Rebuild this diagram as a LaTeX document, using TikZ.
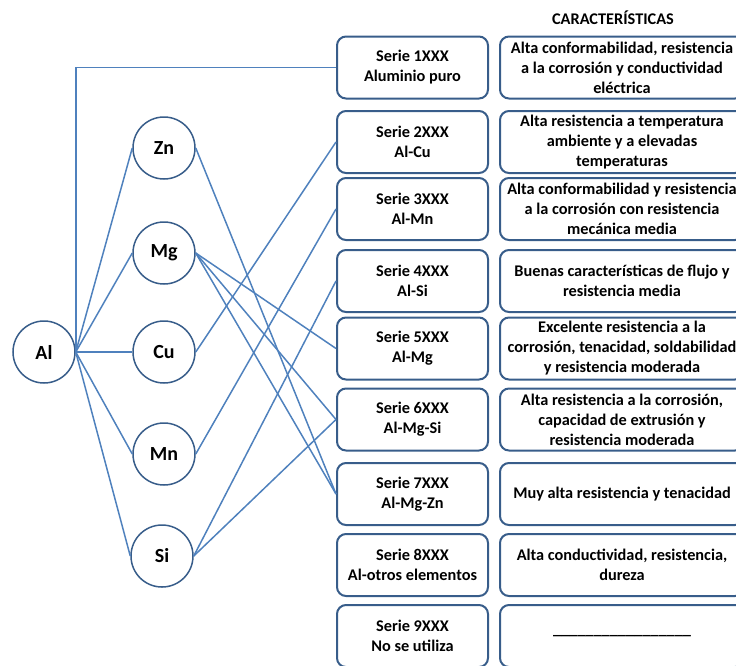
\documentclass[tikz,border=0pt]{standalone}
\usepackage{fontspec}
\setmainfont{Carlito}
\definecolor{boxblue}{RGB}{56,93,138}
\definecolor{lineblue}{RGB}{79,129,189}
\begin{document}
\begin{tikzpicture}[x=1pt,y=-1pt,
  elem/.style={circle,draw=boxblue,line width=1.5pt,fill=white,minimum size=62pt,inner sep=0pt,
    font=\fontsize{20}{22}\selectfont\bfseries},
  serie/.style={rectangle,rounded corners=9pt,draw=boxblue,line width=2pt,minimum width=151pt,minimum height=62pt,
    align=center,inner sep=0pt,font=\fontsize{16.3}{20}\selectfont\bfseries},
  carac/.style={serie,minimum width=244pt},
  conn/.style={draw=lineblue,line width=1.5pt}]
\useasboundingbox (0,0) rectangle (736,665);
\clip (0,0) rectangle (736,665);

\node[font=\fontsize{16.3}{20}\selectfont\bfseries] (head) at (613,18) {CARACTERÍSTICAS};

\node[serie] (s1) at (412.5,67.5) {Serie 1XXX\\Aluminio puro};
\node[serie] (s2) at (412.5,142) {Serie 2XXX\\Al-Cu};
\node[serie] (s3) at (412.5,209) {Serie 3XXX\\Al-Mn};
\node[serie] (s4) at (412.5,281) {Serie 4XXX\\Al-Si};
\node[serie] (s5) at (412.5,348.5) {Serie 5XXX\\Al-Mg};
\node[serie] (s6) at (412.5,419.5) {Serie 6XXX\\Al-Mg-Si};
\node[serie] (s7) at (412.5,494) {Serie 7XXX\\Al-Mg-Zn};
\node[serie] (s8) at (412.5,565) {Serie 8XXX\\Al-otros elementos};
\node[serie] (s9) at (412.5,636) {Serie 9XXX\\No se utiliza};

\node[carac] (c1) at (622,67.5) {Alta conformabilidad, resistencia\\a la corrosión y conductividad\\eléctrica};
\node[carac] (c2) at (622,142) {Alta resistencia a temperatura\\ambiente y a elevadas\\temperaturas};
\node[carac] (c3) at (622,209) {Alta conformabilidad y resistencia\\a la corrosión con resistencia\\mecánica media};
\node[carac] (c4) at (622,281) {Buenas características de flujo y\\resistencia media};
\node[carac] (c5) at (622,348.5) {Excelente resistencia a la\\corrosión, tenacidad, soldabilidad\\y resistencia moderada};
\node[carac] (c6) at (622,419.5) {Alta resistencia a la corrosión,\\capacidad de extrusión y\\resistencia moderada};
\node[carac] (c7) at (622,494) {Muy alta resistencia y tenacidad};
\node[carac] (c8) at (622,565) {Alta conductividad, resistencia,\\dureza};
\node[carac] (c9) at (622,636) {\_\_\_\_\_\_\_\_\_\_\_\_\_\_\_\_\_};

\node[elem] (Al) at (44,352) {Al};
\node[elem] (Zn) at (164,148) {Zn};
\node[elem] (Mg) at (164,253) {Mg};
\node[elem] (Cu) at (164,352) {Cu};
\node[elem] (Mn) at (164,454) {Mn};
\node[elem] (Si) at (162,556) {Si};

\draw[conn] (Al.east) |- (s1.west);
\foreach \e in {Zn,Mg,Cu,Mn,Si} \draw[conn] (Al.east) -- (\e.west);
\draw[conn] (Zn.east) -- (s7.west);
\draw[conn] (Mg.east) -- (s5.west);
\draw[conn] (Mg.east) -- (s6.west);
\draw[conn] (Mg.east) -- (s7.west);
\draw[conn] (Cu.east) -- (s2.west);
\draw[conn] (Mn.east) -- (s3.west);
\draw[conn] (Si.east) -- (s4.west);
\draw[conn] (Si.east) -- (s6.west);
\end{tikzpicture}
\end{document}
